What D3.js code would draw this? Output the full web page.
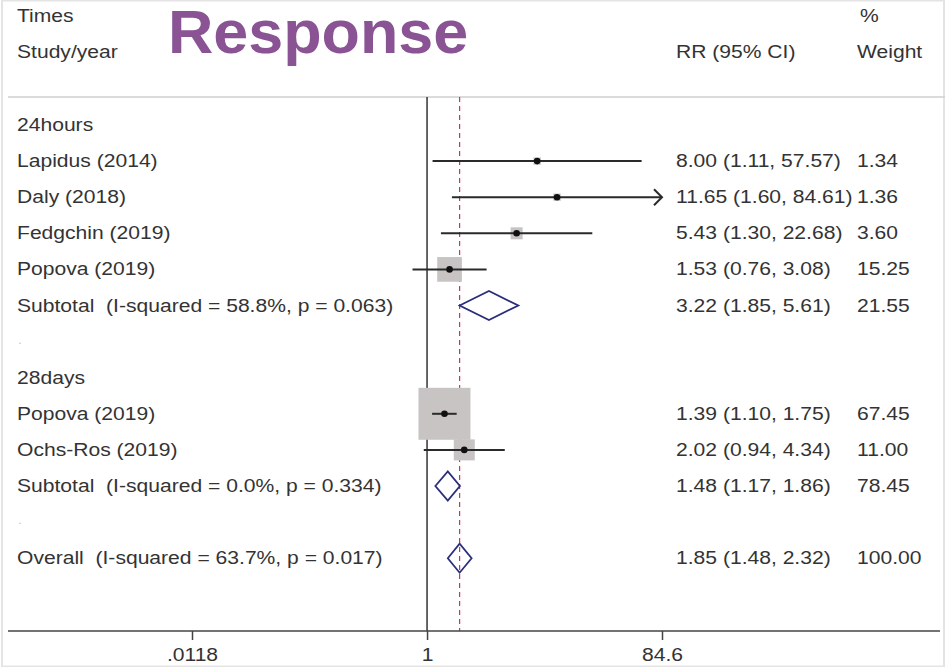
<!DOCTYPE html>
<html>
<head>
<meta charset="utf-8">
<script src="https://cdn.jsdelivr.net/npm/d3@7"></script>
<style>
  body { margin: 0; background: #fff; }
  text { font-family: "Liberation Sans", Arial, sans-serif; fill: #333; white-space: pre; }
</style>
</head>
<body>
<div id="chart"></div>
<script>
// study level data
const groups = ['24hours', '28days'];
const studies = ['Lapidus (2014)', 'Daly (2018)', 'Fedgchin (2019)', 'Popova (2019)', 'Popova (2019)', 'Ochs-Ros (2019)'];
const studyGroup = [0, 0, 0, 0, 1, 1];
const rr = [8.00, 11.65, 5.43, 1.53, 1.39, 2.02];
const lower = [1.11, 1.60, 1.30, 0.76, 1.10, 0.94];
const upper = [57.57, 84.61, 22.68, 3.08, 1.75, 4.34];
const weights = [1.34, 1.36, 3.60, 15.25, 67.45, 11.00];

// pooled estimates
const subLabels = ['Subtotal  (I-squared = 58.8%, p = 0.063)', 'Subtotal  (I-squared = 0.0%, p = 0.334)'];
const subRR = [3.22, 1.48];
const subLower = [1.85, 1.17];
const subUpper = [5.61, 1.86];
const subWeights = [21.55, 78.45];
const overallLabel = 'Overall  (I-squared = 63.7%, p = 0.017)';
const overall = { rr: 1.85, lower: 1.48, upper: 2.32, weight: 100.00 };

const tickValues = [0.0118, 1, 84.6];
const tickLabels = ['.0118', '1', '84.6'];

const width = 945, height = 667;
const sx = 1.14; // text in the source is a little stretched
const fs = 18.5;

const svg = d3.select('#chart').append('svg')
    .attr('width', width)
    .attr('height', height);

const x = d3.scaleLog().domain([0.0118, 84.6]).range([192, 662]);
const rowY = i => 125 + i * 36.1;

// build rows
const rows = [];
groups.forEach((g, gi) => {
    rows.push({ type: 'group', label: g });
    studies.forEach((s, i) => {
        if (studyGroup[i] !== gi) return;
        rows.push({ type: 'study', label: s, rr: rr[i], lower: lower[i], upper: upper[i], weight: weights[i] });
    });
    rows.push({ type: 'pooled', label: subLabels[gi], rr: subRR[gi], lower: subLower[gi], upper: subUpper[gi], weight: subWeights[gi] });
    rows.push({ type: 'blank', label: '.' });
});
rows.push({ type: 'pooled', label: overallLabel, rr: overall.rr, lower: overall.lower, upper: overall.upper, weight: overall.weight });
rows.forEach((r, i) => r.y = rowY(i));

function addText(g, str, tx, ty, size, anchor) {
    return g.append('text')
        .attr('transform', `translate(${tx},${ty}) scale(${sx},1)`)
        .attr('font-size', size)
        .attr('text-anchor', anchor || 'start')
        .attr('xml:space', 'preserve')
        .text(str);
}

// frame
svg.append('rect')
    .attr('x', 2).attr('y', 0.5)
    .attr('width', width - 3).attr('height', height - 1)
    .attr('fill', 'none').attr('stroke', '#e4e4e4').attr('stroke-width', 2);

// header
const header = svg.append('g');
addText(header, 'Times', 17, 22, fs);
addText(header, 'Study/year', 17, 58, fs);
addText(header, 'RR (95% CI)', 676, 58, fs);
addText(header, '%', 860, 22, fs);
addText(header, 'Weight', 857, 58, fs);

svg.append('text')
    .attr('transform', 'translate(168,53) scale(1.03,1)')
    .attr('font-size', 61)
    .attr('font-weight', 'bold')
    .style('fill', '#8a5394')
    .text('Response');

svg.append('line')
    .attr('x1', 8).attr('x2', width)
    .attr('y1', 97).attr('y2', 97)
    .attr('stroke', '#cfcfcf').attr('stroke-width', 1.5);

// null line and overall effect line
const plotTop = 97, plotBottom = 631;
svg.append('line')
    .attr('x1', x(1)).attr('x2', x(1))
    .attr('y1', plotTop).attr('y2', plotBottom)
    .attr('stroke', '#333').attr('stroke-width', 1.5);

svg.append('line')
    .attr('x1', x(overall.rr)).attr('x2', x(overall.rr))
    .attr('y1', plotTop).attr('y2', plotBottom)
    .attr('stroke', '#c23a55').attr('stroke-width', 1.2)
    .attr('stroke-dasharray', '5,4');

// axis
svg.append('line')
    .attr('x1', 8).attr('x2', 940)
    .attr('y1', plotBottom).attr('y2', plotBottom)
    .attr('stroke', '#444').attr('stroke-width', 1.5);

const axis = svg.append('g')
    .attr('transform', `translate(0,${plotBottom})`)
    .call(d3.axisBottom(x).tickValues(tickValues).tickFormat((d, i) => tickLabels[i]).tickSize(9).tickPadding(8));
axis.select('.domain').remove();
axis.selectAll('.tick line').attr('stroke', '#444').attr('stroke-width', 1.5);
axis.selectAll('.tick text')
    .attr('font-size', fs)
    .attr('font-family', '"Liberation Sans", Arial, sans-serif')
    .style('fill', '#333')
    .attr('transform', `scale(${sx},1)`)
    .attr('x', 0);

// row labels
const labels = svg.append('g');
rows.forEach(r => {
    if (r.type === 'blank') {
        addText(labels, r.label, 18, r.y + 2, 12).style('fill', '#c8c8c8');
        return;
    }
    addText(labels, r.label, 17, r.y + 6, fs);
    if (r.type === 'group') return;
    const f = d3.format('.2f');
    addText(labels, `${f(r.rr)} (${f(r.lower)}, ${f(r.upper)})`, 676, r.y + 6, fs);
    addText(labels, f(r.weight), 857, r.y + 6, fs);
});

// weight boxes
const boxSide = d3.scaleSqrt().domain([0, 100]).range([0, 63.3]);
const studyRows = rows.filter(r => r.type === 'study');
svg.append('g')
    .selectAll('rect')
    .data(studyRows)
    .join('rect')
    .attr('x', d => x(d.rr) - boxSide(d.weight) / 2)
    .attr('y', d => d.y - boxSide(d.weight) / 2)
    .attr('width', d => boxSide(d.weight))
    .attr('height', d => boxSide(d.weight))
    .attr('fill', '#c8c4c4');

// confidence intervals
const [xMin, xMax] = x.domain();
svg.append('g')
    .selectAll('line')
    .data(studyRows)
    .join('line')
    .attr('x1', d => x(Math.max(d.lower, xMin)))
    .attr('x2', d => x(Math.min(d.upper, xMax)))
    .attr('y1', d => d.y).attr('y2', d => d.y)
    .attr('stroke', '#2a2a2a').attr('stroke-width', 2);

// arrows for intervals beyond the axis
svg.append('g')
    .selectAll('path')
    .data(studyRows.filter(d => d.upper >= xMax))
    .join('path')
    .attr('d', d => `M${x(xMax) - 8},${d.y - 8}L${x(xMax)},${d.y}L${x(xMax) - 8},${d.y + 8}`)
    .attr('fill', 'none').attr('stroke', '#2a2a2a').attr('stroke-width', 2);

// point estimates
svg.append('g')
    .selectAll('circle')
    .data(studyRows)
    .join('circle')
    .attr('cx', d => x(d.rr)).attr('cy', d => d.y)
    .attr('r', 3.3)
    .attr('fill', '#111');

// diamonds
const pooledRows = rows.filter(r => r.type === 'pooled');
svg.append('g')
    .selectAll('path')
    .data(pooledRows)
    .join('path')
    .attr('d', d => `M${x(d.lower)},${d.y}L${x(d.rr)},${d.y - 14.5}L${x(d.upper)},${d.y}L${x(d.rr)},${d.y + 14.5}Z`)
    .attr('fill', 'none')
    .attr('stroke', '#2b2f7a').attr('stroke-width', 1.8);
</script>
</body>
</html>
